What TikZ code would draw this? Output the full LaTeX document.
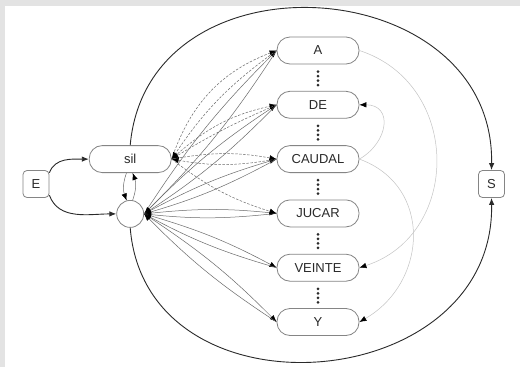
\documentclass[tikz,border=0pt]{standalone}
\usepackage{fontspec}
\setmainfont{Liberation Sans}
\usetikzlibrary{arrows.meta,positioning,calc}
\definecolor{framegray}{HTML}{E3E3E3}
\definecolor{boxline}{HTML}{858585}
\definecolor{textgray}{HTML}{2A2A2A}
\definecolor{fanline}{HTML}{6A6A6A}
\definecolor{paleline}{HTML}{C4C4C4}
\tikzset{
  word/.style={
    draw=boxline,
    line width=0.8pt,
    rounded corners=13pt,
    fill=white,
    minimum width=82pt,
    minimum height=27pt,
    inner sep=0pt,
    font=\fontsize{13}{15}\selectfont,
    text=textgray
  },
  term/.style={
    draw=boxline,
    line width=0.8pt,
    rounded corners=4pt,
    fill=white,
    minimum width=26pt,
    minimum height=27pt,
    inner sep=0pt,
    font=\fontsize{13}{15}\selectfont,
    text=textgray
  },
  nullstate/.style={
    circle,
    draw=boxline,
    line width=0.8pt,
    fill=white,
    minimum size=27pt,
    inner sep=0pt
  },
  bigarc/.style={
    -{Latex[length=7pt,width=5.5pt]},
    line width=0.9pt,
    draw=textgray
  },
  fan/.style={
    -{Latex[length=7pt,width=5.5pt,color=black]},
    line width=0.5pt,
    draw=fanline
  },
  silfan/.style={
    fan,
    dash pattern=on 2.5pt off 1.5pt
  },
  loopback/.style={
    -{Latex[length=7pt,width=5.5pt,color=black]},
    line width=0.5pt,
    draw=paleline
  }
}

\begin{document}
\begin{tikzpicture}[x=1pt, y=1pt, node distance=26.5pt]
  % frame
  \fill[framegray] (0,0) rectangle (520,-367);
  \fill[white] (5,-6) rectangle (520,-367);
  \useasboundingbox (0,0) rectangle (520,-367);

  \node[word] (A) at (318,-50.5) {A};
  \node[word, below=of A] (DE) {DE};
  \node[word, below=of DE] (CAUDAL) {CAUDAL};
  \node[word, below=of CAUDAL] (JUCAR) {JUCAR};
  \node[word, below=of JUCAR] (VEINTE) {VEINTE};
  \node[word, below=of VEINTE] (Y) {Y};

  \node[word, left=105pt of CAUDAL] (sil) {sil};
  \node[nullstate, below=27pt of sil] (null) {};
  \node[term] (E) at (36,-184) {E};
  \node[term] (S) at (491.5,-184) {S};

  % vertical dots between the words
  \foreach \a/\b in {A/DE,DE/CAUDAL,CAUDAL/JUCAR,JUCAR/VEINTE,VEINTE/Y}
    \foreach \f in {0.27,0.44,0.61,0.78}
      \fill[textgray] ($(\a.south)!\f!(\b.north)$) circle (1.5pt);

  % entry, exit
  \draw[bigarc] (E.40) to[out=70,in=180] (sil.west);
  \draw[bigarc] (E.-40) to[out=-70,in=180] (null.west);
  \draw[bigarc] (sil.north) .. controls (148,53) and (495,29) .. (S.north);
  \draw[bigarc] (null.south) .. controls (146,-424) and (495,-397) .. (S.south);

  \draw[fan] (null.80) to[out=70,in=-70] (sil.-80);
  \draw[fan] (sil.-105) to[out=-110,in=110] (null.105);

  % null state <-> words
  \foreach \w in {A,DE,CAUDAL,JUCAR,VEINTE,Y} {
    \draw[fan] (null.east) to[bend left=6] (\w.west);
    \draw[fan] (\w.west) to[bend left=6] (null.east);
  }

  % silence <-> words
  \draw[silfan] (sil.east) to[bend left=25] (A.west);
  \draw[silfan] (A.west) to[bend right=10] (sil.east);
  \draw[silfan] (sil.east) to[bend left=15] (DE.west);
  \draw[silfan] (DE.west) to[bend right=4] (sil.east);
  \draw[silfan] (sil.east) to[bend left=10] (CAUDAL.west);
  \draw[silfan] (CAUDAL.west) to[bend left=10] (sil.east);
  \draw[silfan] (sil.east) to[bend right=10] (JUCAR.west);

  \draw[loopback] (A.east) to[out=-18,in=18,looseness=1.27] (VEINTE.east);
  \draw[loopback] (CAUDAL.east) to[out=30,in=0,looseness=1.6] (DE.east);
  \draw[loopback] (CAUDAL.east) to[out=-20,in=30,looseness=1.24] (Y.east);
\end{tikzpicture}
\end{document}
